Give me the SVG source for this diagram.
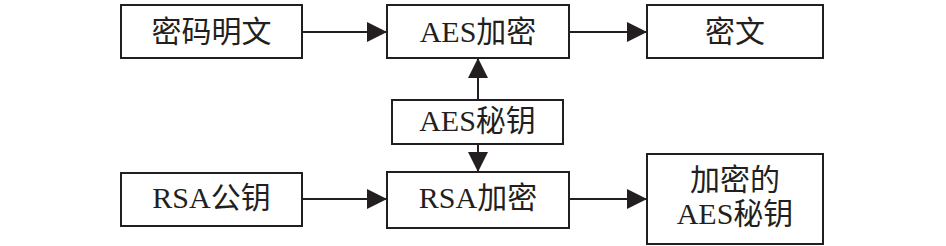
<svg xmlns="http://www.w3.org/2000/svg" width="946" height="246" viewBox="0 0 946 246">
<style>
.box{fill:#fff;stroke:#231f20;stroke-width:2}
.t{font-family:"Liberation Serif","Noto Sans CJK SC",serif;font-size:30px;fill:#231f20;text-anchor:middle}
.c{stroke:#231f20;stroke-width:2;fill:none}
</style>
<defs>
<marker id="ah" markerWidth="20" markerHeight="20" refX="20" refY="10" orient="auto" markerUnits="userSpaceOnUse">
<path d="M0,0 L20,10 L0,20 Z" fill="#231f20"/>
</marker>
</defs>
<rect width="946" height="246" fill="#fff"/>
<g id="connectors">
<line class="c" x1="302" y1="32" x2="387" y2="32" marker-end="url(#ah)"/>
<line class="c" x1="569" y1="32" x2="647" y2="32" marker-end="url(#ah)"/>
<line class="c" x1="302" y1="199" x2="387" y2="199" marker-end="url(#ah)"/>
<line class="c" x1="569" y1="199" x2="647" y2="199" marker-end="url(#ah)"/>
<line class="c" x1="478" y1="100" x2="478" y2="58" marker-end="url(#ah)"/>
<line class="c" x1="478" y1="144" x2="478" y2="172" marker-end="url(#ah)"/>
</g>
<g id="plaintext"><rect class="box" x="121" y="5" width="181" height="53"/><text class="t" x="211.5" y="42">密码明文</text></g>
<g id="aes-encrypt"><rect class="box" x="387" y="5" width="182" height="53"/><text class="t" x="478" y="42">AES加密</text></g>
<g id="ciphertext"><rect class="box" x="647" y="5" width="176" height="53"/><text class="t" x="735" y="42">密文</text></g>
<g id="aes-key"><rect class="box" x="392" y="100" width="171" height="44"/><text class="t" x="477.5" y="131">AES秘钥</text></g>
<g id="rsa-pubkey"><rect class="box" x="121" y="173" width="181" height="53"/><text class="t" x="211.5" y="208">RSA公钥</text></g>
<g id="rsa-encrypt"><rect class="box" x="387" y="172" width="182" height="56"/><text class="t" x="478" y="208">RSA加密</text></g>
<g id="encrypted-key"><rect class="box" x="647" y="154" width="176" height="90"/><text class="t" x="735" y="190">加密的</text><text class="t" x="735" y="224">AES秘钥</text></g>
</svg>
